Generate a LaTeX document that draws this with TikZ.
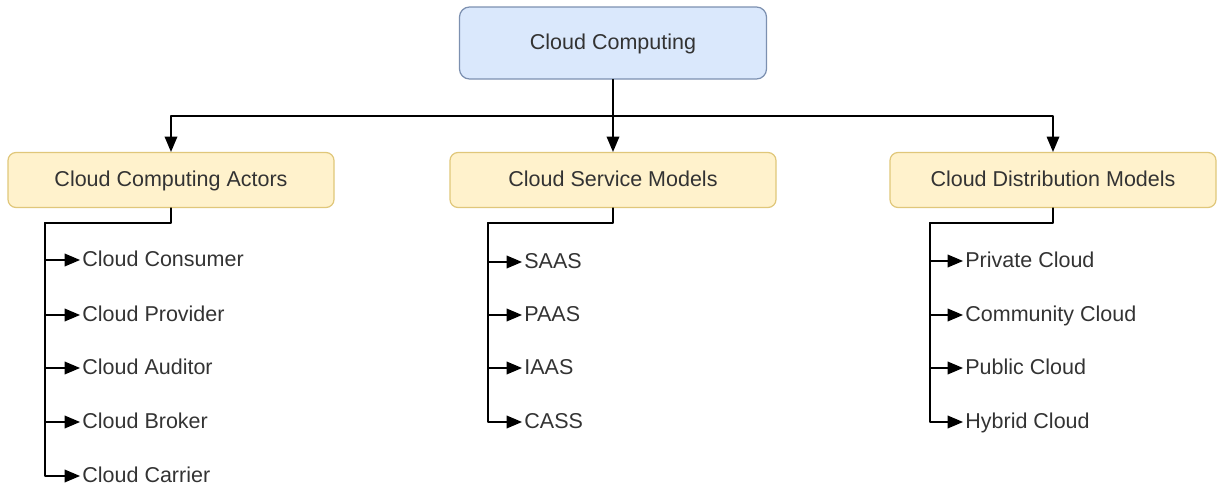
\documentclass[tikz,border=0pt]{standalone}
\usepackage{fontspec}
\setmainfont{Liberation Sans}
\usepackage{tikz}
\usetikzlibrary{arrows}
\usetikzlibrary{positioning}
\definecolor{topfill}{HTML}{DAE8FC}
\definecolor{topline}{HTML}{7C90B0}
\definecolor{groupfill}{HTML}{FFF2CC}
\definecolor{groupline}{HTML}{E0C77A}
\definecolor{txt}{HTML}{333333}
\tikzset{
  topbox/.style={draw=topline,fill=topfill,rounded corners=5pt,line width=0.6pt,
    minimum width=153.5pt,minimum height=36pt,text=txt,text height=1.6ex,text depth=.4ex},
  groupbox/.style={draw=groupline,fill=groupfill,rounded corners=4pt,line width=0.6pt,
    minimum width=163pt,minimum height=27.5pt,text=txt,text height=1.6ex,text depth=.4ex},
  itemtext/.style={anchor=west,inner sep=1pt,text=txt,text height=1.6ex,text depth=.4ex},
  wire/.style={line width=0.75pt,black}
}

\begin{document}
\begin{tikzpicture}[line cap=round,line join=round,>=triangle 45,x=0.5pt,y=-0.5pt,
  font=\fontsize{10.75}{12}\selectfont]
\useasboundingbox (0,0) rectangle (1217,487);
% top
\node[topbox] (cc) at (613,43) {Cloud Computing};
\coordinate (split) at (613,116);
% the three groups
\node[groupbox] (actors) at (171,180) {Cloud Computing Actors};
\node[groupbox] (service) at (613,180) {Cloud Service Models};
\node[groupbox] (distrib) at (1053,180) {Cloud Distribution Models};
\draw[wire] (cc) -- (split);
\draw[wire,->] (split) -| (actors.north);
\draw[wire,->] (split) -- (service.north);
\draw[wire,->] (split) -| (distrib.north);
% actors
\coordinate (actbend) at (45,223);
\draw[wire] (actors.south) |- (actbend);
\foreach \y/\name/\lbl in {260/act1/Cloud Consumer,315/act2/Cloud Provider,368/act3/Cloud Auditor,422/act4/Cloud Broker,476/act5/Cloud Carrier}
{
\node[itemtext] (\name) at (80,\y) {\lbl};
\draw[wire,->] (actbend) |- (\name.west);
}
% service models
\coordinate (svcbend) at (488,223);
\draw[wire] (service.south) |- (svcbend);
\foreach \y/\name/\lbl in {262/svc1/SAAS,315/svc2/PAAS,368/svc3/IAAS,422/svc4/CASS}
{
\node[itemtext] (\name) at (522,\y) {\lbl};
\draw[wire,->] (svcbend) |- (\name.west);
}
% distribution models
\coordinate (disbend) at (930,223);
\draw[wire] (distrib.south) |- (disbend);
\foreach \y/\name/\lbl in {261/dis1/Private Cloud,315/dis2/Community Cloud,368/dis3/Public Cloud,422/dis4/Hybrid Cloud}
{
\node[itemtext] (\name) at (963,\y) {\lbl};
\draw[wire,->] (disbend) |- (\name.west);
}
\end{tikzpicture}
\end{document}
